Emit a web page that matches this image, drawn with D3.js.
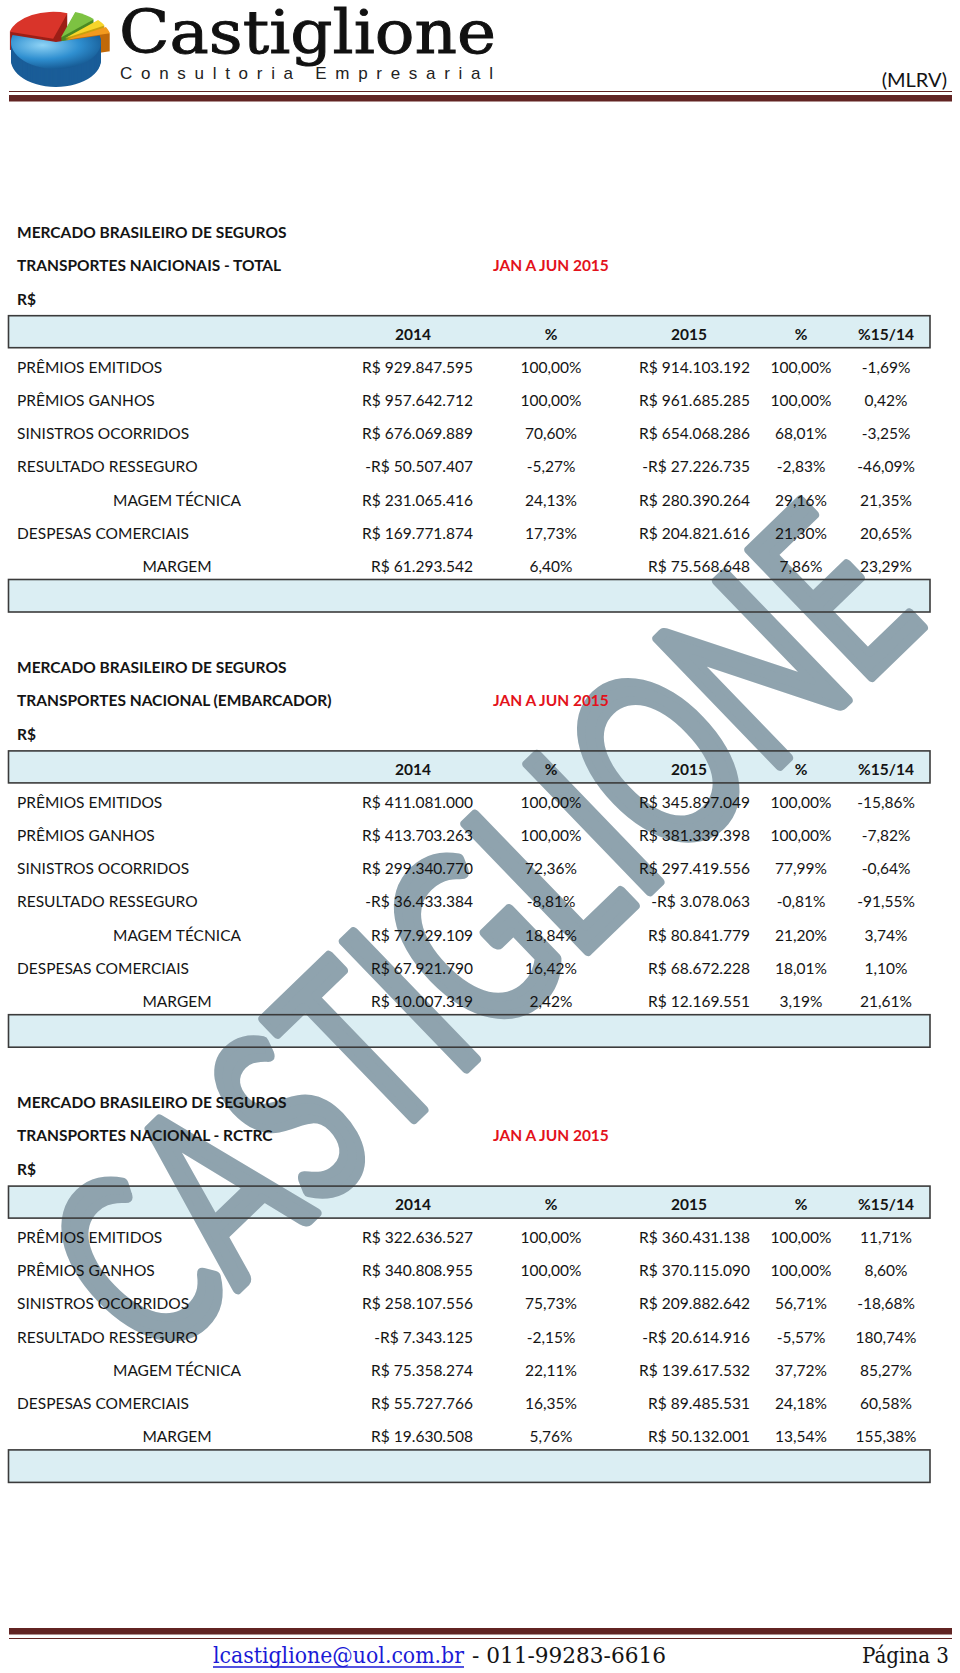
<!DOCTYPE html>
<html>
<head>
<meta charset="utf-8">
<script src="https://cdn.jsdelivr.net/npm/d3@7"></script>
<style>
  body { margin: 0; background: #fff; }
  svg { display: block; }
</style>
</head>
<body>
<div id="page"></div>
<script>
// ---- data -------------------------------------------------------------
const rowLabels = ["PRÊMIOS EMITIDOS", "PRÊMIOS GANHOS", "SINISTROS OCORRIDOS",
  "RESULTADO RESSEGURO", "MAGEM TÉCNICA", "DESPESAS COMERCIAIS", "MARGEM"];
const centeredRows = ["MAGEM TÉCNICA", "MARGEM"];
const colHeaders = ["2014", "%", "2015", "%", "%15/14"];

const tableTitles = ["TRANSPORTES NAICIONAIS - TOTAL",
  "TRANSPORTES NACIONAL (EMBARCADOR)", "TRANSPORTES NACIONAL - RCTRC"];

// total
const total2014 = [929847595, 957642712, 676069889, -50507407, 231065416, 169771874, 61293542];
const totalPct2014 = [100.00, 100.00, 70.60, -5.27, 24.13, 17.73, 6.40];
const total2015 = [914103192, 961685285, 654068286, -27226735, 280390264, 204821616, 75568648];
const totalPct2015 = [100.00, 100.00, 68.01, -2.83, 29.16, 21.30, 7.86];
const totalVar = [-1.69, 0.42, -3.25, -46.09, 21.35, 20.65, 23.29];

// embarcador
const emb2014 = [411081000, 413703263, 299340770, -36433384, 77929109, 67921790, 10007319];
const embPct2014 = [100.00, 100.00, 72.36, -8.81, 18.84, 16.42, 2.42];
const emb2015 = [345897049, 381339398, 297419556, -3078063, 80841779, 68672228, 12169551];
const embPct2015 = [100.00, 100.00, 77.99, -0.81, 21.20, 18.01, 3.19];
const embVar = [-15.86, -7.82, -0.64, -91.55, 3.74, 1.10, 21.61];

// rctrc
const rctrc2014 = [322636527, 340808955, 258107556, -7343125, 75358274, 55727766, 19630508];
const rctrcPct2014 = [100.00, 100.00, 75.73, -2.15, 22.11, 16.35, 5.76];
const rctrc2015 = [360431138, 370115090, 209882642, -20614916, 139617532, 89485531, 50132001];
const rctrcPct2015 = [100.00, 100.00, 56.71, -5.57, 37.72, 24.18, 13.54];
const rctrcVar = [11.71, 8.60, -18.68, 180.74, 85.27, 60.58, 155.38];

// logo pie slices
const logoSlices = ["red", "green", "yellow", "orange", "blue"];
const logoShares = [26, 8, 4, 4, 58];

// ---- setup -------------------------------------------------------------
const W = 960, H = 1673;
const font = "Lato, 'Open Sans', sans-serif";
const ink = "#141414";

const br = d3.formatLocale({decimal: ",", thousands: ".", grouping: [3], currency: ["R$ ", ""], minus: "-"});
const money = br.format("$,.0f");
const pct = v => br.format(".2f")(v) + "%";

const svg = d3.select("#page").append("svg")
  .attr("width", W).attr("height", H)
  .style("font-family", font);

const tables = tableTitles.map((t, i) => ({
  title: t,
  cols: [
    [total2014, emb2014, rctrc2014][i].map(money),
    [totalPct2014, embPct2014, rctrcPct2014][i].map(pct),
    [total2015, emb2015, rctrc2015][i].map(money),
    [totalPct2015, embPct2015, rctrcPct2015][i].map(pct),
    [totalVar, embVar, rctrcVar][i].map(pct)
  ]
}));

const sectionY = d3.scaleLinear().domain([0, 1]).range([0, 435.2]);
const rowY = d3.scalePoint().domain(["header"].concat(rowLabels)).range([334, 566.4]);
// column anchor x and alignment
const colX = d3.scaleOrdinal().domain(d3.range(5)).range([473, 551, 750, 801, 886]);
const colAnchor = d3.scaleOrdinal().domain(d3.range(5)).range(["end", "middle", "end", "middle", "middle"]);
const headX = d3.scaleOrdinal().domain(d3.range(5)).range([413, 551, 689, 801, 886]);

// ---- bands (behind watermark) -------------------------------------------
const bandFill = "#dbeef3";
tables.forEach((t, i) => {
  const g = svg.append("g").attr("transform", `translate(0,${sectionY(i)})`);
  g.append("rect").attr("x", 8.5).attr("y", 315.7).attr("width", 921.5).attr("height", 32)
    .attr("fill", bandFill);
  g.append("rect").attr("x", 8.5).attr("y", 579.5).attr("width", 921.5).attr("height", 32.5)
    .attr("fill", bandFill);
});

// ---- watermark ----------------------------------------------------------
svg.append("g")
  .attr("transform", "translate(480,930) rotate(-44)")
  .append("text")
  .attr("x", 0).attr("y", 90)
  .attr("text-anchor", "middle")
  .attr("textLength", 1075)
  .attr("lengthAdjust", "spacingAndGlyphs")
  .style("font-family", font)
  .style("font-weight", 400)
  .style("font-size", "246px")
  .attr("fill", "#8fa3ae")
  .attr("stroke", "#8fa3ae")
  .attr("stroke-width", 10)
  .attr("stroke-linejoin", "round")
  .text("CASTIGLIONE");

// ---- tables -------------------------------------------------------------
tables.forEach((t, i) => {
  const g = svg.append("g").attr("transform", `translate(0,${sectionY(i)})`);

  g.append("text").attr("x", 17).attr("y", 238)
    .style("font-weight", 700).style("font-size", "15.5px").attr("fill", ink)
    .text("MERCADO BRASILEIRO DE SEGUROS");
  g.append("text").attr("x", 17).attr("y", 271)
    .style("font-weight", 700).style("font-size", "15.5px").attr("fill", ink)
    .text(t.title);
  g.append("text").attr("x", 493).attr("y", 271)
    .style("font-weight", 700).style("font-size", "15.5px").attr("fill", "#e3121b")
    .text("JAN A JUN 2015");
  g.append("text").attr("x", 17).attr("y", 305)
    .style("font-weight", 700).style("font-size", "15.5px").attr("fill", ink)
    .text("R$");

  // borders
  [[315.7, 32], [579.5, 32.5]].forEach(([y, h]) => {
    g.append("rect").attr("x", 8.5).attr("y", y).attr("width", 921.5).attr("height", h)
      .attr("fill", "none").attr("stroke", "#3b3b3b").attr("stroke-width", 1.6);
  });

  // header labels
  g.selectAll(".hd").data(colHeaders).enter().append("text")
    .attr("x", (d, j) => headX(j))
    .attr("y", rowY("header") + 5.5)
    .attr("text-anchor", "middle")
    .style("font-weight", 700).style("font-size", "15.5px").attr("fill", ink)
    .text(d => d);

  // row labels
  g.selectAll(".lb").data(rowLabels).enter().append("text")
    .attr("x", d => centeredRows.includes(d) ? 177 : 17)
    .attr("y", d => rowY(d) + 5.5)
    .attr("text-anchor", d => centeredRows.includes(d) ? "middle" : "start")
    .style("font-size", "15.5px").attr("fill", ink)
    .text(d => d);

  // values
  t.cols.forEach((col, j) => {
    g.selectAll(".c" + j).data(col).enter().append("text")
      .attr("x", colX(j))
      .attr("y", (d, k) => rowY(rowLabels[k]) + 5.5)
      .attr("text-anchor", colAnchor(j))
      .style("font-size", "15.5px").attr("fill", ink)
      .text(d => d);
  });
});

// ---- page header ----------------------------------------------------------
const defs = svg.append("defs");
const grad = defs.append("radialGradient").attr("id", "blueG")
  .attr("cx", "35%").attr("cy", "30%").attr("r", "75%");
grad.append("stop").attr("offset", "0%").attr("stop-color", "#8fd3f5");
grad.append("stop").attr("offset", "55%").attr("stop-color", "#2f8fd0");
grad.append("stop").attr("offset", "100%").attr("stop-color", "#14568f");

const topColor = d3.scaleOrdinal().domain(logoSlices)
  .range(["#d9342a", "#7dc242", "#f6d52a", "#f39a1e", "url(#blueG)"]);
const sideColor = d3.scaleOrdinal().domain(logoSlices)
  .range(["#9c1f17", "#4b8a24", "#c9a00f", "#c0690a", "#1a5d98"]);
const explode = d3.scaleOrdinal().domain(logoSlices).range([6, 9, 11, 11, 0]);

const pie = d3.pie().sort(null).startAngle(-75 * Math.PI / 180)
  .endAngle(285 * Math.PI / 180);
const arcs = pie(logoShares).map((a, i) => Object.assign(a, {key: logoSlices[i]}));
const arc = d3.arc().innerRadius(0).outerRadius(45);
const logo = svg.append("g").attr("transform", "translate(56,42)");
const depth = 18;
arcs.forEach(a => {
  const mid = (a.startAngle + a.endAngle) / 2;
  const dx = Math.sin(mid) * explode(a.key), dy = -Math.cos(mid) * explode(a.key) * 0.6;
  const sg = logo.append("g").attr("transform", `translate(${dx},${dy})`);
  for (let k = depth; k >= 1; k--) {
    sg.append("path").attr("d", arc(a))
      .attr("transform", `translate(0,${k}) scale(1,0.6)`)
      .attr("fill", sideColor(a.key));
  }
  sg.append("path").attr("d", arc(a))
    .attr("transform", "scale(1,0.6)")
    .attr("fill", topColor(a.key));
});

svg.append("text").attr("x", 119).attr("y", 53)
  .attr("textLength", 377).attr("lengthAdjust", "spacingAndGlyphs")
  .style("font-family", "'DejaVu Serif', 'Liberation Serif', serif")
  .style("font-size", "60px").attr("fill", "#111")
  .attr("stroke", "#111").attr("stroke-width", 0.9)
  .text("Castiglione");
svg.append("text").attr("x", 120).attr("y", 79)
  .attr("textLength", 373).attr("lengthAdjust", "spacing")
  .style("font-family", "'Liberation Sans', Arial, sans-serif")
  .style("font-size", "17px").attr("fill", "#222")
  .text("Consultoria Empresarial");
svg.append("text").attr("x", 947).attr("y", 87).attr("text-anchor", "end")
  .style("font-size", "20px").attr("fill", ink)
  .text("(MLRV)");

const maroon = "#622423";
svg.append("line").attr("x1", 9).attr("x2", 952).attr("y1", 91.5).attr("y2", 91.5)
  .attr("stroke", maroon).attr("stroke-width", 1.2);
svg.append("rect").attr("x", 9).attr("y", 95).attr("width", 943).attr("height", 6.5)
  .attr("fill", maroon);

// ---- footer --------------------------------------------------------------
svg.append("rect").attr("x", 9).attr("y", 1628).attr("width", 943).attr("height", 6.5)
  .attr("fill", maroon);
svg.append("line").attr("x1", 9).attr("x2", 952).attr("y1", 1638.5).attr("y2", 1638.5)
  .attr("stroke", maroon).attr("stroke-width", 1.2);

const serif = "'DejaVu Serif Condensed', 'Liberation Serif', serif";
svg.append("text").attr("x", 213).attr("y", 1663)
  .attr("textLength", 251).attr("lengthAdjust", "spacingAndGlyphs")
  .style("font-family", serif).style("font-size", "23px").attr("fill", "#1a1ad6")
  .text("lcastiglione@uol.com.br");
svg.append("line").attr("x1", 213).attr("x2", 464).attr("y1", 1667).attr("y2", 1667)
  .attr("stroke", "#1a1ad6").attr("stroke-width", 1.3);
svg.append("text").attr("x", 472).attr("y", 1663)
  .attr("textLength", 194).attr("lengthAdjust", "spacingAndGlyphs")
  .style("font-family", serif).style("font-size", "23px").attr("fill", ink)
  .text("- 011-99283-6616");
svg.append("text").attr("x", 862).attr("y", 1663)
  .attr("textLength", 87).attr("lengthAdjust", "spacingAndGlyphs")
  .style("font-family", serif).style("font-size", "23px").attr("fill", ink)
  .text("Página 3");
</script>
</body>
</html>
